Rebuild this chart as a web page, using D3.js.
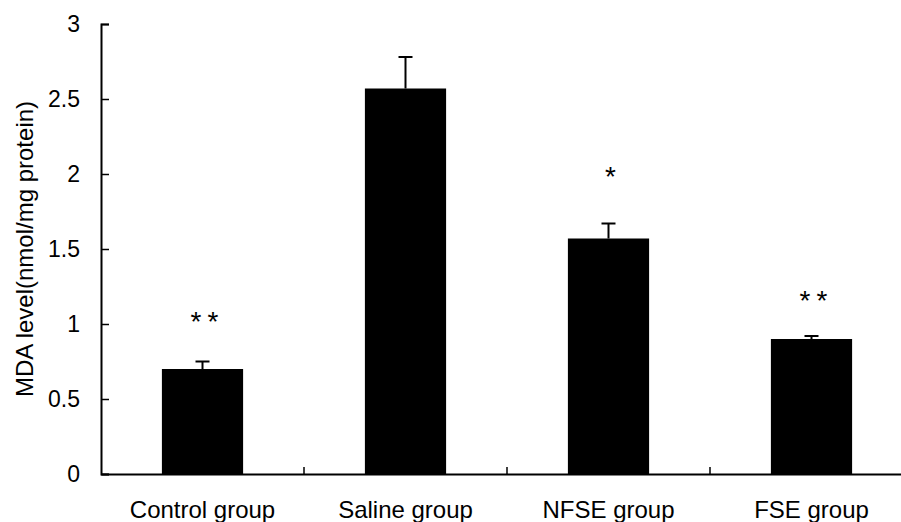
<!DOCTYPE html>
<html><head><meta charset="utf-8">
<script src="https://cdn.jsdelivr.net/npm/d3@7"></script>
<style>body{margin:0;background:#fff}svg{display:block}text{font-family:"Liberation Sans",Arial,sans-serif}</style>
</head><body><svg id="c" width="901" height="522"></svg>
<script>
const categories = ["Control group","Saline group","NFSE group","FSE group"];
const values = [0.70, 2.57, 1.57, 0.90];
const errors = [0.05, 0.21, 0.10, 0.02];
const marks = ["**","","*","**"];
const markLevel = [1.06, null, 2.03, 1.2];
const yTicks = [0,0.5,1,1.5,2,2.5,3];
const yLabel = "MDA level(nmol/mg protein)";

const svg = d3.select("#c");
const xb = d3.scaleBand().domain(categories).range([101, 913]);
const y = d3.scaleLinear().domain([0,3]).range([474,24]);
const barW = xb.bandwidth()/2.5;

// bars
svg.append("g").selectAll("rect").data(values).join("rect")
  .attr("x",(d,i)=>xb(categories[i])+xb.bandwidth()/2-barW/2)
  .attr("width",barW)
  .attr("y",d=>y(d)).attr("height",d=>y(0)-y(d)).attr("fill","#000");

// error bars
const eb = svg.append("g").attr("stroke","#000").attr("stroke-width",2);
values.forEach((v,i)=>{
  const cx = xb(categories[i])+xb.bandwidth()/2;
  eb.append("line").attr("x1",cx).attr("x2",cx).attr("y1",y(v)).attr("y2",y(v+errors[i]));
  eb.append("line").attr("x1",cx-7).attr("x2",cx+7).attr("y1",y(v+errors[i])).attr("y2",y(v+errors[i]));
});

// y axis
const ya = d3.axisLeft(y).tickValues(yTicks).tickFormat(d3.format("~g")).tickSize(-8).tickPadding(21);
const gy = svg.append("g").attr("transform","translate(101,0)").call(ya);
gy.select(".domain").attr("stroke","#000").attr("stroke-width",2);
gy.selectAll(".tick line").attr("stroke","#000").attr("stroke-width",1.5);
gy.selectAll(".tick text").attr("font-size",23).attr("fill","#000")
  .attr("font-family","Liberation Sans, Arial, sans-serif");

// x axis
const xa = d3.axisBottom(xb).tickSize(0).tickPadding(42);
const gx = svg.append("g").attr("transform","translate(0,474)").call(xa);
gx.select(".domain").attr("stroke","#000").attr("stroke-width",2);
gx.selectAll(".tick text").attr("font-size",24).attr("fill","#000")
  .attr("font-family","Liberation Sans, Arial, sans-serif").attr("dy","0.1em");
// category divider ticks
svg.append("g").selectAll("line").data(categories.slice(1)).join("line")
  .attr("x1",d=>xb(d)).attr("x2",d=>xb(d)).attr("y1",474).attr("y2",467)
  .attr("stroke","#000").attr("stroke-width",1.5);

// significance marks (each asterisk drawn separately)
const mg = svg.append("g");
const fs = 28, gap = 17;
marks.forEach((m,i)=>{
  if(!m) return;
  const cx = xb(categories[i])+xb.bandwidth()/2 + 2;
  const n = m.length;
  for(let k=0;k<n;k++){
    mg.append("text").attr("x",cx + (k-(n-1)/2)*gap)
      .attr("y",y(markLevel[i]) + fs*0.575)
      .attr("text-anchor","middle").attr("font-size",fs).attr("fill","#000").text(m[k]);
  }
});

// y label
svg.append("text").attr("transform","translate(24,249) rotate(-90)")
  .attr("text-anchor","middle").attr("dominant-baseline","central")
  .attr("font-size",24).attr("fill","#000").text(yLabel);
</script></body></html>
